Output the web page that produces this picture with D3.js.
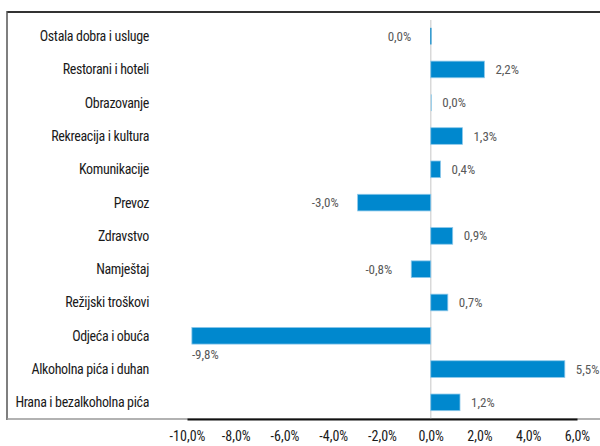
<!DOCTYPE html>
<html lang="hr">
<head>
  <meta charset="UTF-8">
  <title>Promjena cijena po kategorijama</title>
  <style>
    body {
      margin: 0;
      padding: 0;
      background: #fff;
    }
    svg {
      display: block;
      font-family: 'Liberation Sans Narrow', 'Roboto Condensed', 'DejaVu Sans Condensed', sans-serif;
      font-stretch: condensed;
    }
    .cat-label {
      font-size: 14px;
      letter-spacing: -0.35px;
      fill: #1a1a1a;
    }
    .val-label {
      font-size: 13px;
      fill: #595959;
    }
    .x-axis text {
      font-size: 14px;
      fill: #1a1a1a;
      font-family: 'Liberation Sans Narrow', 'Roboto Condensed', 'DejaVu Sans Condensed', sans-serif;
    }
  </style>
</head>
<body>
  <svg width="600" height="446"></svg>

  <script src="https://d3js.org/d3.v7.min.js"></script>
  <script>
    // categories top -> bottom, values in percent
    const categories = [
      "Ostala dobra i usluge",
      "Restorani i hoteli",
      "Obrazovanje",
      "Rekreacija i kultura",
      "Komunikacije",
      "Prevoz",
      "Zdravstvo",
      "Namještaj",
      "Režijski troškovi",
      "Odjeća i obuća",
      "Alkoholna pića i duhan",
      "Hrana i bezalkoholna pića"
    ];
    const values = [-0.02, 2.2, 0.02, 1.3, 0.4, -3.0, 0.9, -0.8, 0.7, -9.8, 5.5, 1.2];
    const tickValues = [-10, -8, -6, -4, -2, 0, 2, 4, 6];

    const data = categories.map((c, i) => ({ name: c, value: values[i] }));

    const hr = d3.formatLocale({ decimal: ",", thousands: ".", grouping: [3], currency: ["", " €"], minus: "-" });
    const fmt = v => hr.format(".1f")(Math.abs(v) < 0.05 ? 0 : v) + "%";

    const svg = d3.select("svg");

    // frame
    svg.append("line")
      .attr("x1", 7).attr("x2", 600).attr("y1", 12).attr("y2", 12)
      .attr("stroke", "#333").attr("stroke-width", 2);
    svg.append("line")
      .attr("x1", 7).attr("x2", 7).attr("y1", 11).attr("y2", 420)
      .attr("stroke", "#555").attr("stroke-width", 1.5);
    svg.append("line")
      .attr("x1", 7).attr("x2", 600).attr("y1", 419).attr("y2", 419)
      .attr("stroke", "#999").attr("stroke-width", 1.5);

    const x = d3.scaleLinear().domain([-10, 6]).range([187, 577]);
    const y = d3.scaleBand()
      .domain(categories)
      .range([19.5, 419])
      .paddingInner(0.5)
      .paddingOuter(0.25);

    // zero line
    svg.append("line")
      .attr("x1", x(0)).attr("x2", x(0))
      .attr("y1", 20).attr("y2", 419)
      .attr("stroke", "#d9d9d9").attr("stroke-width", 1.5);

    // bars
    svg.append("g").selectAll("rect")
      .data(data)
      .enter().append("rect")
      .attr("x", d => Math.min(x(0), x(d.value)))
      .attr("y", d => y(d.name))
      .attr("width", d => Math.max(1.2, Math.abs(x(d.value) - x(0))))
      .attr("height", y.bandwidth())
      .attr("fill", d => Math.abs(d.value) < 0.05 && d.value > 0 ? "#9ccfea" : "#0088ce")
      .attr("stroke", "#8cc8ea")
      .attr("stroke-width", d => Math.abs(d.value) < 0.05 ? 0 : 0.8);

    // value labels
    svg.append("g").selectAll("text")
      .data(data)
      .enter().append("text")
      .attr("class", "val-label")
      .each(function(d) {
        const t = d3.select(this);
        const cy = y(d.name) + y.bandwidth() / 2;
        if (d.value >= 0) {
          t.attr("x", x(d.value) + 11).attr("y", cy).attr("dy", "0.35em")
            .attr("text-anchor", "start");
        } else if (x(d.value) - 60 < x.range()[0]) {
          // no room on the left: put it under the bar
          t.attr("x", x(d.value)).attr("y", cy + y.bandwidth() + 2).attr("dy", "0.35em")
            .attr("text-anchor", "start");
        } else {
          t.attr("x", x(d.value) - 19).attr("y", cy).attr("dy", "0.35em")
            .attr("text-anchor", "end");
        }
      })
      .text(d => fmt(d.value));

    // category labels
    svg.append("g").selectAll("text")
      .data(data)
      .enter().append("text")
      .attr("class", "cat-label")
      .attr("x", 149)
      .attr("y", d => y(d.name) + y.bandwidth() / 2)
      .attr("dy", "0.35em")
      .attr("text-anchor", "end")
      .text(d => d.name);

    // x axis
    const xAxis = d3.axisBottom(x)
      .tickValues(tickValues)
      .tickSize(0)
      .tickPadding(12)
      .tickFormat(d => hr.format(".1f")(d) + "%");

    const axisG = svg.append("g")
      .attr("class", "x-axis")
      .attr("transform", "translate(0,419)")
      .call(xAxis);
    axisG.select(".domain").attr("stroke", "#111").attr("stroke-width", 2);
  </script>
</body>
</html>
